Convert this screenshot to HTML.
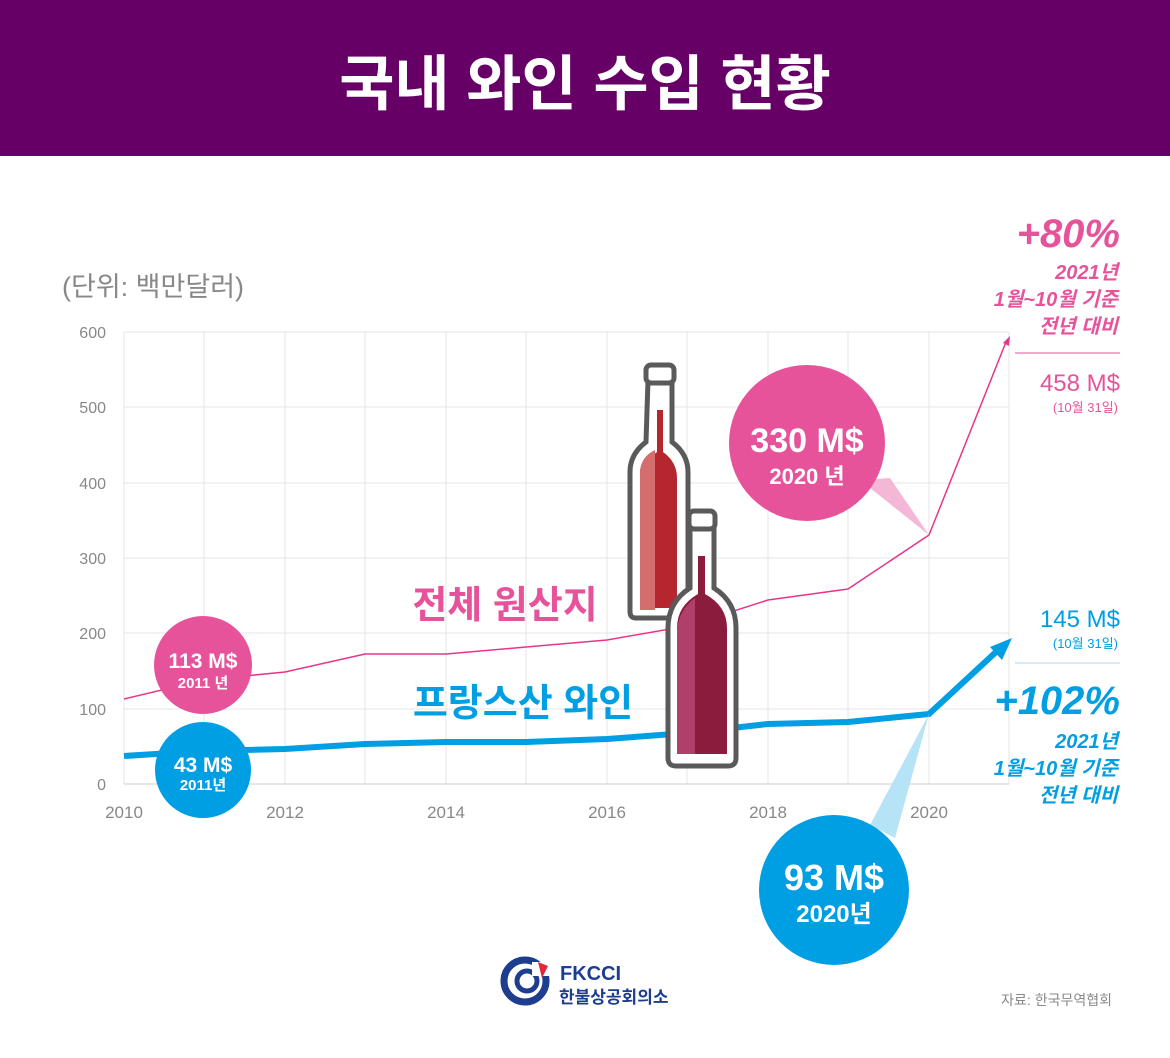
<!DOCTYPE html>
<html><head><meta charset="utf-8"><style>
body{margin:0;width:1170px;height:1053px;background:#fff;overflow:hidden;font-family:"Liberation Sans","Noto Sans CJK KR",sans-serif}
</style></head><body>
<svg width="1170" height="1053" viewBox="0 0 1170 1053" xmlns="http://www.w3.org/2000/svg" font-family="Liberation Sans, Noto Sans CJK KR, sans-serif">
<rect x="0" y="0" width="1170" height="156" fill="#660066"/>
<text x="585" y="105" text-anchor="middle" font-size="60" font-weight="bold" fill="#fff">국내 와인 수입 현황</text>
<text x="62" y="296" font-size="27" fill="#888">(단위: 백만달러)</text>
<g stroke="#e4e4e4" stroke-width="1">
<line x1="124" y1="332" x2="1009" y2="332"/><line x1="124" y1="407" x2="1009" y2="407"/><line x1="124" y1="483" x2="1009" y2="483"/><line x1="124" y1="558" x2="1009" y2="558"/><line x1="124" y1="633" x2="1009" y2="633"/><line x1="124" y1="709" x2="1009" y2="709"/>
<line x1="124" y1="332" x2="124" y2="784"/><line x1="204" y1="332" x2="204" y2="784"/><line x1="285" y1="332" x2="285" y2="784"/><line x1="365" y1="332" x2="365" y2="784"/><line x1="446" y1="332" x2="446" y2="784"/><line x1="526" y1="332" x2="526" y2="784"/><line x1="607" y1="332" x2="607" y2="784"/><line x1="687" y1="332" x2="687" y2="784"/><line x1="768" y1="332" x2="768" y2="784"/><line x1="848" y1="332" x2="848" y2="784"/><line x1="929" y1="332" x2="929" y2="784"/><line x1="1009" y1="332" x2="1009" y2="784"/>
</g>
<line x1="124" y1="784" x2="1009" y2="784" stroke="#ccc"/>
<g font-size="16" fill="#888" text-anchor="end">
<text x="106" y="338">600</text><text x="106" y="413">500</text><text x="106" y="489">400</text><text x="106" y="564">300</text><text x="106" y="639">200</text><text x="106" y="715">100</text><text x="106" y="790">0</text>
</g>
<g font-size="17" fill="#888" text-anchor="middle">
<text x="124" y="818">2010</text><text x="285" y="818">2012</text><text x="446" y="818">2014</text><text x="607" y="818">2016</text><text x="768" y="818">2018</text><text x="929" y="818">2020</text>
</g>
<polyline fill="none" stroke="#e8358a" stroke-width="1.5" points="124,699 204,680 285,672 365,654 446,654 526,647 607,640 687,626 768,600 848,589 929,535 1006,342"/>
<polygon points="1010,336 1003,343 1009,346" fill="#e8358a"/>
<polyline fill="none" stroke="#009ee3" stroke-width="6" points="124,756 204,751 285,749 365,744 446,742 526,742 607,739 687,733 768,724 848,722 929,714 996,652"/>
<polygon points="1012,638 990,647 1002,660" fill="#009ee3"/>
<text x="505" y="618" text-anchor="middle" font-size="38" font-weight="bold" fill="#e6539a">전체 원산지</text>
<text x="523" y="716" text-anchor="middle" font-size="38" font-weight="bold" fill="#009ee3">프랑스산 와인</text>
<polygon points="860,480 890,478 929,535" fill="#f4b8d6"/>
<circle cx="807" cy="443" r="78" fill="#e6539a"/>
<text x="807" y="452" text-anchor="middle" font-size="34" font-weight="bold" fill="#fff">330 M$</text>
<text x="807" y="484" text-anchor="middle" font-size="22" font-weight="bold" fill="#fff">2020 년</text>
<polygon points="870,825 895,838 929,714" fill="#b7e3f6"/>
<circle cx="834" cy="890" r="75" fill="#009ee3"/>
<text x="834" y="890" text-anchor="middle" font-size="36" font-weight="bold" fill="#fff">93 M$</text>
<text x="834" y="922" text-anchor="middle" font-size="24" font-weight="bold" fill="#fff">2020년</text>
<circle cx="203" cy="665" r="49" fill="#e6539a"/>
<text x="203" y="668" text-anchor="middle" font-size="21" font-weight="bold" fill="#fff">113 M$</text>
<text x="203" y="688" text-anchor="middle" font-size="15" font-weight="bold" fill="#fff">2011 년</text>
<circle cx="203" cy="770" r="48" fill="#009ee3"/>
<text x="203" y="772" text-anchor="middle" font-size="21" font-weight="bold" fill="#fff">43 M$</text>
<text x="203" y="790" text-anchor="middle" font-size="15" font-weight="bold" fill="#fff">2011년</text>
<g stroke="#5a5a5a" stroke-width="5">
<path d="M648,380 h24 v62 q16,12 16,30 v140 q0,6 -6,6 h-46 q-6,0 -6,-6 v-140 q0,-18 16,-30 z" fill="#fff"/>
<rect x="646" y="365" width="28" height="18" rx="5" fill="#fff"/>
</g>
<path d="M657,410 h6 v42 q14,10 14,26 v130 h-34 v-130 q0,-16 14,-26 z" fill="#b5262e"/>
<path d="M640,470 q2,-14 15,-20 v160 h-15 z" fill="#d46d6d"/>
<g stroke="#5a5a5a" stroke-width="5">
<path d="M690,528 h24 v60 q22,14 22,40 v130 q0,8 -8,8 h-52 q-8,0 -8,-8 v-130 q0,-26 22,-40 z" fill="#fff"/>
<rect x="689" y="511" width="26" height="18" rx="5" fill="#fff"/>
</g>
<path d="M698,556 h7 v38 q22,12 22,34 v126 h-50 v-126 q0,-22 21,-34 z" fill="#8c1c3e"/>
<path d="M677,630 q2,-20 18,-32 v156 h-18 z" fill="#b0406a"/>
<g text-anchor="end" font-weight="bold" font-style="italic" fill="#e6539a">
<text x="1120" y="247" font-size="40">+80%</text>
<text x="1118" y="279" font-size="20">2021년</text>
<text x="1118" y="306" font-size="20">1월~10월 기준</text>
<text x="1118" y="333" font-size="20">전년 대비</text>
</g>
<line x1="1015" y1="353" x2="1120" y2="353" stroke="#e6539a" stroke-width="1"/>
<text x="1120" y="391" text-anchor="end" font-size="24" fill="#e6539a">458 M$</text>
<text x="1118" y="412" text-anchor="end" font-size="13" fill="#e6539a">(10월 31일)</text>
<text x="1120" y="627" text-anchor="end" font-size="24" fill="#009ee3">145 M$</text>
<text x="1118" y="648" text-anchor="end" font-size="13" fill="#009ee3">(10월 31일)</text>
<line x1="1015" y1="663" x2="1120" y2="663" stroke="#9fd8f2" stroke-width="1"/>
<g text-anchor="end" font-weight="bold" font-style="italic" fill="#009ee3">
<text x="1120" y="714" font-size="40">+102%</text>
<text x="1118" y="748" font-size="20">2021년</text>
<text x="1118" y="775" font-size="20">1월~10월 기준</text>
<text x="1118" y="802" font-size="20">전년 대비</text>
</g>
<circle cx="525" cy="981" r="21" fill="none" stroke="#1d3d8f" stroke-width="7"/>
<circle cx="527" cy="981" r="10" fill="none" stroke="#1d3d8f" stroke-width="5"/>
<rect x="532" y="962" width="20" height="14" fill="#fff"/>
<path d="M538,962 l10,4 l-6,12 z" fill="#e5253a"/>
<text x="560" y="980" font-size="20" font-weight="bold" fill="#1d3d8f">FKCCI</text>
<text x="559" y="1003" font-size="17" font-weight="bold" fill="#1d3d8f">한불상공회의소</text>
<text x="1112" y="1005" text-anchor="end" font-size="14" fill="#888">자료: 한국무역협회</text>
</svg>
</body></html>
